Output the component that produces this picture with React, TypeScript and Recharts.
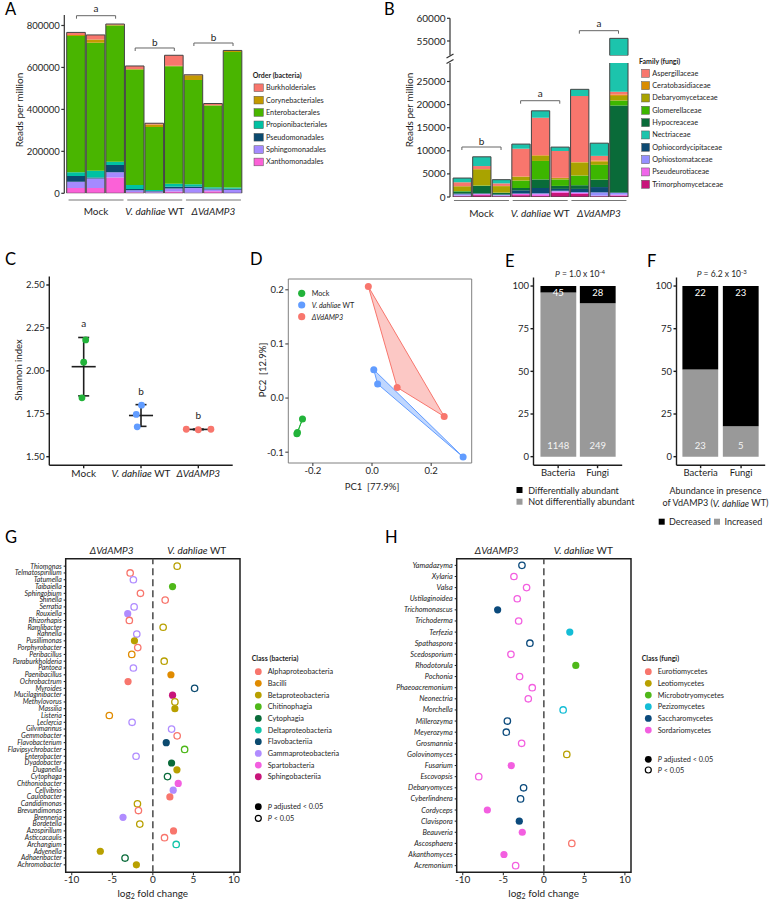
import React from "react";
import {
  BarChart,
  Bar,
  XAxis,
  YAxis,
  ScatterChart,
  Scatter,
  ReferenceLine,
  ReferenceDot,
  ReferenceArea,
  LabelList,
} from "recharts";

const FONT = "Lato, 'Noto Sans', sans-serif";
const INK = "#1e1e1e";

// samples shared by A and B
const samples = ["M1", "M2", "M3", "W1", "W2", "W3", "D1", "D2", "D3"];
const sampleGroups = ["Mock", "Mock", "Mock", "WT", "WT", "WT", "dAMP3", "dAMP3", "dAMP3"];

// A: order (bacteria), reads per million
const bacOrders = ["Burkholderiales", "Corynebacteriales", "Enterobacterales", "Propionibacteriales", "Pseudomonadales", "Sphingomonadales", "Xanthomonadales"];
const bacOrderColors = ["#F8766D", "#C49A00", "#49B500", "#00C1A3", "#0B4A6F", "#A58AFF", "#FB61D7"];
const burkholderiales = [12000, 22000, 4000, 15000, 6000, 50000, 2000, 8000, 2000];
const corynebacteriales = [5000, 15000, 3000, 2000, 12000, 2000, 23000, 1000, 5000];
const enterobacterales = [650000, 610000, 650000, 550000, 300000, 560000, 497000, 390000, 646000];
const propionibacteriales = [18000, 33000, 15000, 20000, 5000, 15000, 10000, 6000, 6000];
const pseudomonadales = [27000, 5000, 35000, 5000, 3000, 8000, 8000, 5000, 5000];
const sphingomonadales = [30000, 45000, 25000, 10000, 5000, 15000, 22000, 8000, 15000];
const xanthomonadales = [25000, 25000, 75000, 5000, 3000, 8000, 3000, 10000, 2000];

// B: family (fungi), reads per million
const fungFamilies = ["Aspergillaceae", "Ceratobasidiaceae", "Debaryomycetaceae", "Glomerellaceae", "Hypocreaceae", "Nectriaceae", "Ophiocordycipitaceae", "Ophiostomataceae", "Pseudeurotiaceae", "Trimorphomycetaceae"];
const fungFamilyColors = ["#F8766D", "#D98C00", "#A9A300", "#3DB600", "#0A6B39", "#1CC4AC", "#0C4A72", "#9590FF", "#F066EA", "#C8157A"];
const aspergillaceae = [850, 650, 550, 6000, 8100, 5800, 14300, 1000, 600];
const ceratobasidiaceae = [50, 50, 50, 100, 150, 50, 100, 250, 300];
const debaryomycetaceae = [1000, 3500, 1400, 800, 1100, 300, 2800, 700, 1000];
const glomerellaceae = [100, 100, 50, 1600, 4000, 1400, 2100, 3200, 1080];
const hypocreaceae = [450, 1600, 350, 500, 1850, 650, 800, 1600, 18800];
const nectriaceae = [900, 2000, 800, 1000, 1500, 850, 1450, 2750, 32800];
const ophiocordycipitaceae = [150, 100, 100, 700, 1150, 400, 700, 1150, 100];
const ophiostomataceae = [250, 100, 150, 100, 200, 150, 200, 700, 400];
const pseudeurotiaceae = [200, 200, 150, 250, 400, 300, 200, 150, 200];
const trimorphomycetaceae = [150, 400, 150, 400, 200, 900, 650, 150, 300];
// bottom-to-top stacking as drawn
const fungStackOrder = ["Trimorphomycetaceae", "Pseudeurotiaceae", "Ophiostomataceae", "Ophiocordycipitaceae", "Hypocreaceae", "Glomerellaceae", "Debaryomycetaceae", "Ceratobasidiaceae", "Aspergillaceae", "Nectriaceae"];
const bLowerMax = 29000;
const bUpperMin = 51800;

// C: Shannon index
const shannonMock = [2.18, 2.05, 1.843];
const shannonWT = [1.746, 1.8, 1.674];
const shannonDelta = [1.66, 1.657, 1.66];
const shannonJitterMock = [0.035, 0, -0.03];
const shannonJitterWT = [-0.083, 0.009, -0.066];
const shannonJitterDelta = [-0.21, 0, 0.22];
const shannonLetters = ["a", "b", "b"];

// D: PCA
const pcaMockX = [-0.235, -0.254, -0.252];
const pcaMockY = [-0.0388, -0.066, -0.0636];
const pcaWtX = [0.006, 0.019, 0.308];
const pcaWtY = [0.0523, 0.026, -0.109];
const pcaDeltaX = [-0.0125, 0.085, 0.244];
const pcaDeltaY = [0.206, 0.0196, -0.034];

const groupColors = { Mock: "#22B33A", WT: "#619CFF", dAMP3: "#F8766D" };

// E / F
const kingdoms = ["Bacteria", "Fungi"];
const diffAbundant = [45, 28];
const notDiffAbundant = [1148, 249];
const decreased = [22, 23];
const increased = [23, 5];

// G: bacterial genera
const bacGenera = ["Thiomonas", "Telmatospirillum", "Tatumella", "Taibaiella", "Sphingobium", "Shinella", "Serratia", "Rouxiella", "Rhizorhapis", "Ramlibacter", "Rahnella", "Pusillimonas", "Porphyrobacter", "Peribacillus", "Paraburkholderia", "Pantoea", "Paenibacillus", "Ochrobactrum", "Myroides", "Mucilaginibacter", "Methylovorus", "Massilia", "Listeria", "Leclercia", "Gilvimarinus", "Gemmobacter", "Flavobacterium", "Flavipsychrobacter", "Enterobacter", "Dyadobacter", "Duganella", "Cytophaga", "Chthoniobacter", "Cellvibrio", "Caulobacter", "Candidimonas", "Brevundimonas", "Brenneria", "Bordetella", "Azospirillum", "Asticcacaulis", "Archangium", "Advenella", "Adhaeribacter", "Achromobacter"];
const bacLfc = [3.0, -2.8, -2.4, 2.43, -1.53, 1.52, -2.31, -3.1, -2.9, 1.27, -1.98, -2.27, -1.86, -2.6, 1.4, -2.4, 2.23, -3.06, 5.15, 2.43, 2.72, 2.72, -5.37, -2.56, 2.31, 3.0, 1.65, 3.92, -2.07, 2.31, 2.97, 1.81, 3.13, 2.51, 2.1, -1.9, -1.78, -3.68, -1.61, 2.55, 1.44, 2.88, -6.48, -3.43, -2.03];
const bacGenusClass = ["Betaproteobacteria", "Alphaproteobacteria", "Gammaproteobacteria", "Chitinophagia", "Alphaproteobacteria", "Alphaproteobacteria", "Gammaproteobacteria", "Gammaproteobacteria", "Alphaproteobacteria", "Betaproteobacteria", "Gammaproteobacteria", "Betaproteobacteria", "Alphaproteobacteria", "Bacilli", "Betaproteobacteria", "Gammaproteobacteria", "Bacilli", "Alphaproteobacteria", "Flavobacteriia", "Sphingobacteriia", "Betaproteobacteria", "Betaproteobacteria", "Bacilli", "Gammaproteobacteria", "Gammaproteobacteria", "Alphaproteobacteria", "Flavobacteriia", "Chitinophagia", "Gammaproteobacteria", "Cytophagia", "Betaproteobacteria", "Cytophagia", "Spartobacteria", "Gammaproteobacteria", "Alphaproteobacteria", "Betaproteobacteria", "Alphaproteobacteria", "Gammaproteobacteria", "Betaproteobacteria", "Alphaproteobacteria", "Alphaproteobacteria", "Deltaproteobacteria", "Betaproteobacteria", "Cytophagia", "Betaproteobacteria"];
const bacAdjSig = [0, 0, 0, 1, 0, 0, 0, 1, 0, 0, 0, 1, 0, 0, 0, 0, 1, 1, 0, 1, 0, 1, 0, 0, 0, 0, 1, 0, 0, 1, 1, 0, 1, 1, 1, 0, 0, 1, 0, 1, 0, 0, 1, 0, 1];
const bacClasses = ["Alphaproteobacteria", "Bacilli", "Betaproteobacteria", "Chitinophagia", "Cytophagia", "Deltaproteobacteria", "Flavobacteriia", "Gammaproteobacteria", "Spartobacteria", "Sphingobacteriia"];
const bacClassColors = ["#F8766D", "#E08B00", "#B8A000", "#4FB81A", "#0A6B3A", "#10C4A8", "#0B4A6F", "#B08CFF", "#F35FE0", "#C8157A"];

// H: fungal genera
const fungGenera = ["Yamadazyma", "Xylaria", "Valsa", "Ustilaginoidea", "Trichomonascus", "Trichoderma", "Terfezia", "Spathaspora", "Scedosporium", "Rhodotorula", "Pochonia", "Phaeoacremonium", "Neonectria", "Morchella", "Millerozyma", "Meyerozyma", "Grosmannia", "Golovinomyces", "Fusarium", "Escovopsis", "Debaryomyces", "Cyberlindnera", "Cordyceps", "Clavispora", "Beauveria", "Ascosphaera", "Akanthomyces", "Acremonium"];
const fungLfc = [-2.7, -3.69, -2.13, -3.28, -5.7, -3.11, 3.2, -1.72, -4.06, 3.94, -2.99, -1.43, -1.92, 2.38, -4.5, -4.63, -2.74, 2.83, -4.02, -8.03, -2.5, -2.87, -6.97, -3.03, -2.66, 3.45, -4.92, -3.48];
const fungGenusClass = ["Saccharomycetes", "Sordariomycetes", "Sordariomycetes", "Sordariomycetes", "Saccharomycetes", "Sordariomycetes", "Pezizomycetes", "Saccharomycetes", "Sordariomycetes", "Microbotryomycetes", "Sordariomycetes", "Sordariomycetes", "Sordariomycetes", "Pezizomycetes", "Saccharomycetes", "Saccharomycetes", "Sordariomycetes", "Leotiomycetes", "Sordariomycetes", "Sordariomycetes", "Saccharomycetes", "Saccharomycetes", "Sordariomycetes", "Saccharomycetes", "Sordariomycetes", "Eurotiomycetes", "Sordariomycetes", "Sordariomycetes"];
const fungAdjSig = [0, 0, 0, 0, 1, 0, 1, 0, 0, 1, 0, 0, 0, 0, 0, 0, 0, 0, 1, 0, 0, 0, 1, 1, 1, 0, 1, 0];
const fungClasses = ["Eurotiomycetes", "Leotiomycetes", "Microbotryomycetes", "Pezizomycetes", "Saccharomycetes", "Sordariomycetes"];
const fungClassColors = ["#F8766D", "#B8A000", "#4FB81A", "#14BDD6", "#0B4A7C", "#F35FE0"];

// ---------- derived tables ----------
function buildRows(names: string[], series: number[][]) {
  return samples.map((s, i) => {
    const row: Record<string, any> = { sample: s, group: sampleGroups[i] };
    names.forEach((n, k) => (row[n] = series[k][i]));
    row.total = series.reduce((acc, v) => acc + v[i], 0);
    return row;
  });
}

const bacRows = buildRows(bacOrders, [burkholderiales, corynebacteriales, enterobacterales, propionibacteriales, pseudomonadales, sphingomonadales, xanthomonadales]);
const fungRows = buildRows(fungFamilies, [aspergillaceae, ceratobasidiaceae, debaryomycetaceae, glomerellaceae, hypocreaceae, nectriaceae, ophiocordycipitaceae, ophiostomataceae, pseudeurotiaceae, trimorphomycetaceae]).map((r) => ({
  ...r,
  upper: r.total > bUpperMin ? r.total : null,
}));

const mean = (v: number[]) => v.reduce((a, b) => a + b, 0) / v.length;
const sd = (v: number[]) => {
  const m = mean(v);
  return Math.sqrt(v.reduce((a, b) => a + (b - m) * (b - m), 0) / (v.length - 1));
};

const shannonSets = [
  { key: "Mock", values: shannonMock, jitter: shannonJitterMock },
  { key: "WT", values: shannonWT, jitter: shannonJitterWT },
  { key: "dAMP3", values: shannonDelta, jitter: shannonJitterDelta },
];

const pcaSets = [
  { key: "Mock", xs: pcaMockX, ys: pcaMockY },
  { key: "WT", xs: pcaWtX, ys: pcaWtY },
  { key: "dAMP3", xs: pcaDeltaX, ys: pcaDeltaY },
];

const eRows = kingdoms.map((k, i) => {
  const tot = diffAbundant[i] + notDiffAbundant[i];
  return { k, diff: diffAbundant[i], not: notDiffAbundant[i], diffPct: (diffAbundant[i] / tot) * 100, notPct: (notDiffAbundant[i] / tot) * 100 };
});
const fRows = kingdoms.map((k, i) => {
  const tot = decreased[i] + increased[i];
  return { k, dec: decreased[i], inc: increased[i], decPct: (decreased[i] / tot) * 100, incPct: (increased[i] / tot) * 100 };
});

const gPoints = bacGenera.map((g, i) => ({
  genus: g,
  x: bacLfc[i],
  y: bacGenera.length - 1 - i,
  color: bacClassColors[bacClasses.indexOf(bacGenusClass[i])],
  sig: bacAdjSig[i] === 1,
}));
const hPoints = fungGenera.map((g, i) => ({
  genus: g,
  x: fungLfc[i],
  y: fungGenera.length - 1 - i,
  color: fungClassColors[fungClasses.indexOf(fungGenusClass[i])],
  sig: fungAdjSig[i] === 1,
}));

// ---------- helpers ----------
function groupLabel(g: string) {
  if (g === "Mock") return <tspan>Mock</tspan>;
  if (g === "WT")
    return (
      <>
        <tspan fontStyle="italic">V. dahliae</tspan>
        <tspan>{"\u00a0WT"}</tspan>
      </>
    );
  return <tspan fontStyle="italic">ΔVdAMP3</tspan>;
}

function groupTick(half: number, lineDy: number, textDy: number) {
  return (p: any) => (
    <g>
      <line x1={p.x - half} x2={p.x + half} y1={p.y + lineDy} y2={p.y + lineDy} stroke="#777" strokeWidth={1} />
      <text x={p.x} y={p.y + textDy} textAnchor="middle" fontSize={10} fill={INK} stroke="none">
        {groupLabel(p.payload.value)}
      </text>
    </g>
  );
}

function bracket(xId: string, x1: string, x2: string, xm: string, y: number, drop: number, letter: string, off: number) {
  const common = { xAxisId: xId, stroke: "#666", strokeWidth: 1, ifOverflow: "visible" as const };
  return [
    <ReferenceLine key={`${x1}h`} {...common} segment={[{ x: x1, y }, { x: x2, y }]} />,
    <ReferenceLine key={`${x1}l`} {...common} segment={[{ x: x1, y }, { x: x1, y: y - drop }]} />,
    <ReferenceLine key={`${x1}r`} {...common} segment={[{ x: x2, y }, { x: x2, y: y - drop }]} />,
    <ReferenceDot
      key={`${x1}t`}
      xAxisId={xId}
      x={xm}
      y={y}
      r={0}
      fill="none"
      stroke="none"
      ifOverflow="visible"
      label={{ value: letter, position: "top", offset: off, fontSize: 10, fill: INK }}
    />,
  ];
}

const dotShape = (p: any) => {
  const d = p.payload;
  if (!d) return <g />;
  return d.sig ? (
    <circle cx={p.cx} cy={p.cy} r={3.6} fill={d.color} />
  ) : (
    <circle cx={p.cx} cy={p.cy} r={3.2} fill="#fff" stroke={d.color} strokeWidth={1.3} />
  );
};

const genusTick = (names: string[], size: number) => (p: any) => {
  const i = names.length - 1 - p.payload.value;
  return (
    <text x={p.x} y={p.y} dy={size * 0.34} textAnchor="end" fontSize={size} fontStyle="italic" fill="#222" stroke="none">
      {names[i]}
    </text>
  );
};

const Pos = ({ l, t, children }: { l: number; t: number; children: React.ReactNode }) => (
  <div style={{ position: "absolute", left: l, top: t }}>{children}</div>
);

// ---------- panels ----------
function PanelA() {
  const pad = { left: 2.4, right: 2.4 };
  return (
    <BarChart width={250} height={230} data={bacRows} margin={{ top: 15, right: 4.8, bottom: 6.7, left: 0 }}>
      <XAxis xAxisId="s" dataKey="sample" hide padding={pad} />
      <XAxis xAxisId="o" dataKey="sample" hide padding={pad} />
      <XAxis xAxisId="g" dataKey="group" allowDuplicatedCategory={false} padding={pad} axisLine={false} tickLine={false} tickSize={0} tickMargin={0} height={30} interval={0} tick={groupTick(27.5, 6.7, 21.5)} />
      <YAxis domain={[0, 850000]} ticks={[0, 200000, 400000, 600000, 800000]} width={64.3} tickSize={3} tickMargin={1.5} stroke="#333" strokeWidth={1.2} tick={{ fontSize: 9.5, fill: INK }} allowDataOverflow />
      {[...bacOrders].reverse().map((n) => (
        <Bar key={n} xAxisId="s" dataKey={n} stackId="a" fill={bacOrderColors[bacOrders.indexOf(n)]} barSize={18.6} isAnimationActive={false} />
      ))}
      <Bar xAxisId="o" dataKey="total" fill="none" stroke="#444" strokeWidth={1} barSize={18.6} isAnimationActive={false} />
      {bracket("s", "M1", "M3", "M2", 846700, 14300, "a", 3.5)}
      {bracket("s", "W1", "W3", "W2", 692700, 14300, "b", 2)}
      {bracket("s", "D1", "D3", "D2", 716500, 14300, "b", 2)}
    </BarChart>
  );
}

function PanelBLower() {
  const pad = { left: 2.1, right: 2.1 };
  return (
    <BarChart width={250} height={230} data={fungRows} margin={{ top: 63, right: 9.6, bottom: 3, left: 0 }}>
      <XAxis xAxisId="s" dataKey="sample" hide padding={pad} />
      <XAxis xAxisId="o" dataKey="sample" hide padding={pad} />
      <XAxis xAxisId="g" dataKey="group" allowDuplicatedCategory={false} padding={pad} axisLine={false} tickLine={false} tickSize={0} tickMargin={0} height={30} interval={0} tick={groupTick(27.5, 3.5, 19.5)} />
      <YAxis domain={[0, bLowerMax]} ticks={[0, 5000, 10000, 15000, 20000, 25000]} width={60} tickSize={3} tickMargin={1.5} stroke="#333" strokeWidth={1.2} tick={{ fontSize: 10, fill: INK }} allowDataOverflow />
      {fungStackOrder.map((n) => (
        <Bar key={n} xAxisId="s" dataKey={n} stackId="a" fill={fungFamilyColors[fungFamilies.indexOf(n)]} barSize={18.3} isAnimationActive={false} />
      ))}
      <Bar xAxisId="o" dataKey="total" fill="none" stroke="#444" strokeWidth={1} barSize={18.3} isAnimationActive={false} />
      {bracket("s", "M1", "M3", "M2", 10820, 650, "b", 2)}
      {bracket("s", "W1", "W3", "W2", 20840, 650, "a", 3.5)}
    </BarChart>
  );
}

function PanelBUpper() {
  const pad = { left: 2.1, right: 2.1 };
  const topFamily = fungStackOrder[fungStackOrder.length - 1];
  return (
    <BarChart width={250} height={60} data={fungRows} margin={{ top: 18.3, right: 9.6, bottom: 4.5, left: 0 }}>
      <XAxis xAxisId="s" dataKey="sample" hide padding={pad} />
      <YAxis domain={[bUpperMin, 60000]} ticks={[55000, 60000]} width={60} tickSize={3} tickMargin={1.5} stroke="#333" strokeWidth={1.2} tick={{ fontSize: 10, fill: INK }} allowDataOverflow />
      <Bar xAxisId="s" dataKey="upper" fill={fungFamilyColors[fungFamilies.indexOf(topFamily)]} stroke="#444" strokeWidth={1} barSize={18.3} isAnimationActive={false} />
      {bracket("s", "D1", "D3", "D2", 57270, 660, "a", 3.5)}
    </BarChart>
  );
}

function PanelC() {
  const CTick = (p: any) => (
    <text x={p.x} y={p.y} dy={8} textAnchor="middle" fontSize={10} fill={INK} stroke="none">
      {groupLabel(shannonSets[p.payload.value - 1].key)}
    </text>
  );
  return (
    <ScatterChart width={240} height={215} margin={{ top: 6.4, right: 7.3, bottom: 1.7, left: 0 }}>
      <XAxis type="number" dataKey="x" domain={[0.4, 3.6]} ticks={[1, 2, 3]} tick={CTick} tickSize={3} tickMargin={1} height={18} stroke={INK} strokeWidth={1.4} allowDataOverflow />
      <YAxis type="number" dataKey="y" domain={[1.45, 2.55]} ticks={[1.5, 1.75, 2, 2.25, 2.5]} tickFormatter={(v: number) => v.toFixed(2)} width={49.3} tickSize={3} tickMargin={1.5} stroke={INK} strokeWidth={1.4} tick={{ fontSize: 9.5, fill: INK }} allowDataOverflow />
      {shannonSets.map((g, gi) => (
        <Scatter
          key={g.key}
          data={g.values.map((v, i) => ({ x: gi + 1 + g.jitter[i], y: v }))}
          shape={(p: any) => <circle cx={p.cx} cy={p.cy} r={3.4} fill={(groupColors as any)[g.key]} />}
          isAnimationActive={false}
        />
      ))}
      {shannonSets.map((g, gi) => {
        const c = gi + 1;
        const m = mean(g.values);
        const s = sd(g.values);
        const st = { stroke: INK, strokeWidth: 1.6, ifOverflow: "visible" as const };
        return [
          <ReferenceLine key={`m${gi}`} {...st} segment={[{ x: c - 0.21, y: m }, { x: c + 0.21, y: m }]} />,
          <ReferenceLine key={`v${gi}`} {...st} segment={[{ x: c, y: m - s }, { x: c, y: m + s }]} />,
          <ReferenceLine key={`t${gi}`} {...st} segment={[{ x: c - 0.096, y: m + s }, { x: c + 0.096, y: m + s }]} />,
          <ReferenceLine key={`b${gi}`} {...st} segment={[{ x: c - 0.096, y: m - s }, { x: c + 0.096, y: m - s }]} />,
          <ReferenceDot key={`l${gi}`} x={c} y={m + s} r={0} fill="none" stroke="none" ifOverflow="visible" label={{ value: shannonLetters[gi], position: "top", offset: 10, fontSize: 10, fill: INK }} />,
        ];
      })}
    </ScatterChart>
  );
}

function PanelD() {
  const xDom: [number, number] = [-0.283, 0.337];
  const yDom: [number, number] = [-0.12, 0.22];
  const hull = (color: string) => (lp: any) => (
    <polygon points={lp.points.map((q: any) => `${q.x},${q.y}`).join(" ")} fill={color} fillOpacity={0.4} stroke={color} strokeWidth={1} />
  );
  return (
    <ScatterChart width={250} height={225} margin={{ top: 9, right: 8.3, bottom: 12, left: 0 }}>
      <XAxis type="number" dataKey="x" domain={xDom} ticks={[-0.2, 0, 0.2]} tickFormatter={(v: number) => v.toFixed(1)} tickSize={3} tickMargin={1.5} height={20} axisLine={false} stroke="#333" tick={{ fontSize: 9.5, fill: INK }} allowDataOverflow />
      <YAxis type="number" dataKey="y" domain={yDom} ticks={[-0.1, 0, 0.1, 0.2]} tickFormatter={(v: number) => v.toFixed(1)} width={58.3} tickSize={3} tickMargin={1.5} axisLine={false} stroke="#333" tick={{ fontSize: 9.5, fill: INK }} allowDataOverflow />
      <ReferenceArea x1={xDom[0]} x2={xDom[1]} y1={yDom[0]} y2={yDom[1]} fill="none" stroke="#808080" strokeWidth={1} />
      {pcaSets.map((g) => {
        const c = (groupColors as any)[g.key];
        return (
          <Scatter
            key={g.key}
            data={g.xs.map((x, i) => ({ x, y: g.ys[i] }))}
            line={hull(c)}
            lineType="joint"
            shape={(p: any) => <circle cx={p.cx} cy={p.cy} r={3.5} fill={c} />}
            isAnimationActive={false}
          />
        );
      })}
    </ScatterChart>
  );
}

function StackPanel({ rows, bottomKey, topKey, bottomCount, topCount, pad }: any) {
  return (
    <BarChart width={140} height={215} data={rows} margin={{ top: 9.5, right: 7.8, bottom: 2.8, left: 0 }}>
      <XAxis dataKey="k" padding={{ left: pad, right: pad }} tickSize={3} tickMargin={1.5} height={15} stroke={INK} strokeWidth={1.4} tick={{ fontSize: 9.5, fill: INK }} />
      <YAxis domain={[-5, 105]} ticks={[0, 25, 50, 75, 100]} width={43.5} tickSize={3} tickMargin={1.5} stroke={INK} strokeWidth={1.4} tick={{ fontSize: 9.5, fill: INK }} allowDataOverflow />
      <Bar dataKey={bottomKey} stackId="a" fill="#999999" barSize={35.8} isAnimationActive={false}>
        <LabelList dataKey={bottomCount} position="insideBottom" offset={8} fill="#f4f4f4" fontSize={9.5} />
      </Bar>
      <Bar dataKey={topKey} stackId="a" fill="#000000" barSize={35.8} isAnimationActive={false}>
        <LabelList dataKey={topCount} position="insideTop" offset={3} fill="#ffffff" fontSize={9.5} />
      </Bar>
    </BarChart>
  );
}

function VolcanoPanel({ points, names, yDom, width, labelSize }: any) {
  const xDom: [number, number] = [-10.75, 10.75];
  return (
    <ScatterChart width={250} height={362} margin={{ top: 18.7, right: 250 - width - 174.3, bottom: 9.7, left: 0 }}>
      <XAxis type="number" dataKey="x" domain={xDom} ticks={[-10, -5, 0, 5, 10]} tickSize={3} tickMargin={1} height={20} axisLine={false} stroke={INK} tick={{ fontSize: 10, fill: INK }} allowDataOverflow />
      <YAxis type="number" dataKey="y" domain={yDom} ticks={names.map((_: string, i: number) => i)} interval={0} width={width} tickSize={2} tickMargin={2} axisLine={false} stroke={INK} tick={genusTick(names, labelSize)} allowDataOverflow />
      <ReferenceArea x1={xDom[0]} x2={xDom[1]} y1={yDom[0]} y2={yDom[1]} fill="none" stroke={INK} strokeWidth={1.5} />
      <ReferenceLine x={0} stroke="#555" strokeWidth={1.6} strokeDasharray="7 4" />
      <Scatter data={points} shape={dotShape} isAnimationActive={false} />
    </ScatterChart>
  );
}

// ---------- static text: titles, legends ----------
function Overlay() {
  const T = (props: any) => <text fill={INK} dominantBaseline="central" {...props} />;
  return (
    <svg width={781} height={902} style={{ position: "absolute", left: 0, top: 0, pointerEvents: "none" }} fontFamily={FONT}>
      {/* panel letters */}
      <text x={5} y={15} fontSize={16.5} fill="#000">A</text>
      <text x={384} y={15} fontSize={16.5} fill="#000">B</text>
      <text x={5} y={264.5} fontSize={16.5} fill="#000">C</text>
      <text x={250} y={264.5} fontSize={16.5} fill="#000">D</text>
      <text x={505} y={267} fontSize={16.5} fill="#000">E</text>
      <text x={647} y={267} fontSize={16.5} fill="#000">F</text>
      <text x={5} y={543.3} fontSize={16.5} fill="#000">G</text>
      <text x={385} y={543.3} fontSize={16.5} fill="#000">H</text>

      {/* A */}
      <T transform="translate(19,110) rotate(-90)" textAnchor="middle" fontSize={10}>Reads per million</T>
      <T x={252.7} y={75} fontSize={7} fontWeight="bold">Order (bacteria)</T>
      {bacOrders.map((n, k) => (
        <g key={n}>
          <rect x={254} y={87.7 + 12.37 * k - 3.8} width={9.3} height={7.7} fill={bacOrderColors[k]} stroke="#555" strokeWidth={0.5} />
          <T x={266} y={87.7 + 12.37 * k} fontSize={7.3}>{n}</T>
        </g>
      ))}

      {/* B */}
      <T transform="translate(409,110) rotate(-90)" textAnchor="middle" fontSize={10}>Reads per million</T>
      <line x1={446.5} y1={58} x2={453.5} y2={54} stroke="#333" strokeWidth={1.2} />
      <line x1={446.5} y1={63.5} x2={453.5} y2={59.5} stroke="#333" strokeWidth={1.2} />
      <T x={639} y={61} fontSize={7} fontWeight="bold">Family (fungi)</T>
      {fungFamilies.map((n, k) => (
        <g key={n}>
          <rect x={641.7} y={73.3 + 12.33 * k - 4} width={7.8} height={8} fill={fungFamilyColors[k]} stroke="#555" strokeWidth={0.5} />
          <T x={652.3} y={73.3 + 12.33 * k} fontSize={7.3}>{n}</T>
        </g>
      ))}

      {/* C */}
      <T transform="translate(18,370) rotate(-90)" textAnchor="middle" fontSize={9.5}>Shannon index</T>

      {/* D */}
      <T transform="translate(262,370) rotate(-90)" textAnchor="middle" fontSize={9.5}>PC2{"\u00a0\u00a0"}[12.9%]</T>
      <T x={372} y={486} textAnchor="middle" fontSize={9.5}>PC1{"\u00a0\u00a0"}[77.9%]</T>
      {pcaSets.map((g, k) => (
        <g key={g.key}>
          <circle cx={301.7} cy={293.3 + 11.7 * k} r={3.6} fill={(groupColors as any)[g.key]} />
          <T x={311.7} y={293.3 + 11.7 * k} fontSize={7.2}>{groupLabel(g.key)}</T>
        </g>
      ))}

      {/* E */}
      <T x={580} y={274} textAnchor="middle" fontSize={8.5}>
        <tspan fontStyle="italic">P</tspan> = 1.0 x 10<tspan dy={-3} fontSize={6}>-4</tspan>
      </T>
      <rect x={516.5} y={487} width={6} height={6} fill="#000" />
      <T x={528.3} y={490} fontSize={9}>Differentially abundant</T>
      <rect x={516.5} y={498.7} width={6} height={6} fill="#999" />
      <T x={528.3} y={501.7} fontSize={9}>Not differentially abundant</T>

      {/* F */}
      <T x={721.7} y={274} textAnchor="middle" fontSize={8.5}>
        <tspan fontStyle="italic">P</tspan> = 6.2 x 10<tspan dy={-3} fontSize={6}>-3</tspan>
      </T>
      <T x={715.5} y={490} textAnchor="middle" fontSize={9}>Abundance in presence</T>
      <T x={715.5} y={502.5} textAnchor="middle" fontSize={9}>
        of VdAMP3 (<tspan fontStyle="italic">V. dahliae</tspan> WT)
      </T>
      <rect x={658.7} y={518.7} width={6} height={6} fill="#000" />
      <T x={669} y={521.7} fontSize={9}>Decreased</T>
      <rect x={714} y={518.7} width={6} height={6} fill="#999" />
      <T x={724.5} y={521.7} fontSize={9}>Increased</T>

      {/* G */}
      <T x={111.7} y={550} textAnchor="middle" fontSize={10} fontStyle="italic">ΔVdAMP3</T>
      <T x={196.7} y={550} textAnchor="middle" fontSize={10}>
        <tspan fontStyle="italic">V. dahliae</tspan> WT
      </T>
      <T x={152.8} y={893} textAnchor="middle" fontSize={10}>
        log<tspan dy={2.5} fontSize={7}>2</tspan>
        <tspan dy={-2.5}> fold change</tspan>
      </T>
      <T x={251.7} y={658.3} fontSize={7} fontWeight="bold">Class (bacteria)</T>
      {bacClasses.map((n, k) => (
        <g key={n}>
          <circle cx={258.3} cy={671.7 + 11.67 * k} r={3.4} fill={bacClassColors[k]} />
          <T x={267.7} y={671.7 + 11.67 * k} fontSize={7.3}>{n}</T>
        </g>
      ))}
      <circle cx={258.3} cy={806.7} r={3.4} fill="#000" />
      <T x={267.7} y={806.7} fontSize={7.3}>
        <tspan fontStyle="italic">P</tspan> adjusted {"<"} 0.05
      </T>
      <circle cx={258.3} cy={818.3} r={3} fill="#fff" stroke="#000" strokeWidth={1.2} />
      <T x={267.7} y={818.3} fontSize={7.3}>
        <tspan fontStyle="italic">P</tspan> {"<"} 0.05
      </T>

      {/* H */}
      <T x={496.7} y={550} textAnchor="middle" fontSize={10} fontStyle="italic">ΔVdAMP3</T>
      <T x={583.3} y={550} textAnchor="middle" fontSize={10}>
        <tspan fontStyle="italic">V. dahliae</tspan> WT
      </T>
      <T x={543.7} y={893} textAnchor="middle" fontSize={10}>
        log<tspan dy={2.5} fontSize={7}>2</tspan>
        <tspan dy={-2.5}> fold change</tspan>
      </T>
      <T x={641.7} y={658.3} fontSize={7} fontWeight="bold">Class (fungi)</T>
      {fungClasses.map((n, k) => (
        <g key={n}>
          <circle cx={648.3} cy={671.7 + 11.67 * k} r={3.4} fill={fungClassColors[k]} />
          <T x={657.7} y={671.7 + 11.67 * k} fontSize={7.3}>{n}</T>
        </g>
      ))}
      <circle cx={648.3} cy={759.3} r={3.4} fill="#000" />
      <T x={657.7} y={759.3} fontSize={7.3}>
        <tspan fontStyle="italic">P</tspan> adjusted {"<"} 0.05
      </T>
      <circle cx={648.3} cy={770} r={3} fill="#fff" stroke="#000" strokeWidth={1.2} />
      <T x={657.7} y={770} fontSize={7.3}>
        <tspan fontStyle="italic">P</tspan> {"<"} 0.05
      </T>
    </svg>
  );
}

export default function App() {
  return (
    <div style={{ position: "relative", width: 781, height: 902, background: "#fff", fontFamily: FONT, overflow: "hidden" }}>
      <style>{"body{margin:0}"}</style>
      <Pos l={0} t={0}><PanelA /></Pos>
      <Pos l={390} t={0}><PanelBLower /></Pos>
      <Pos l={390} t={0}><PanelBUpper /></Pos>
      <Pos l={0} t={270}><PanelC /></Pos>
      <Pos l={230} t={270}><PanelD /></Pos>
      <Pos l={490} t={268}>
        <StackPanel rows={eRows} bottomKey="notPct" topKey="diffPct" bottomCount="not" topCount="diff" pad={4.95} />
      </Pos>
      <Pos l={633} t={268}>
        <StackPanel rows={fRows} bottomKey="incPct" topKey="decPct" bottomCount="inc" topCount="dec" pad={3.9} />
      </Pos>
      <Pos l={0} t={540}>
        <VolcanoPanel points={gPoints} names={bacGenera} yDom={[-1.1, 45.1]} width={65.7} labelSize={6.9} />
      </Pos>
      <Pos l={390} t={540}>
        <VolcanoPanel points={hPoints} names={fungGenera} yDom={[-0.6, 27.6]} width={66.7} labelSize={7.3} />
      </Pos>
      <Overlay />
    </div>
  );
}
